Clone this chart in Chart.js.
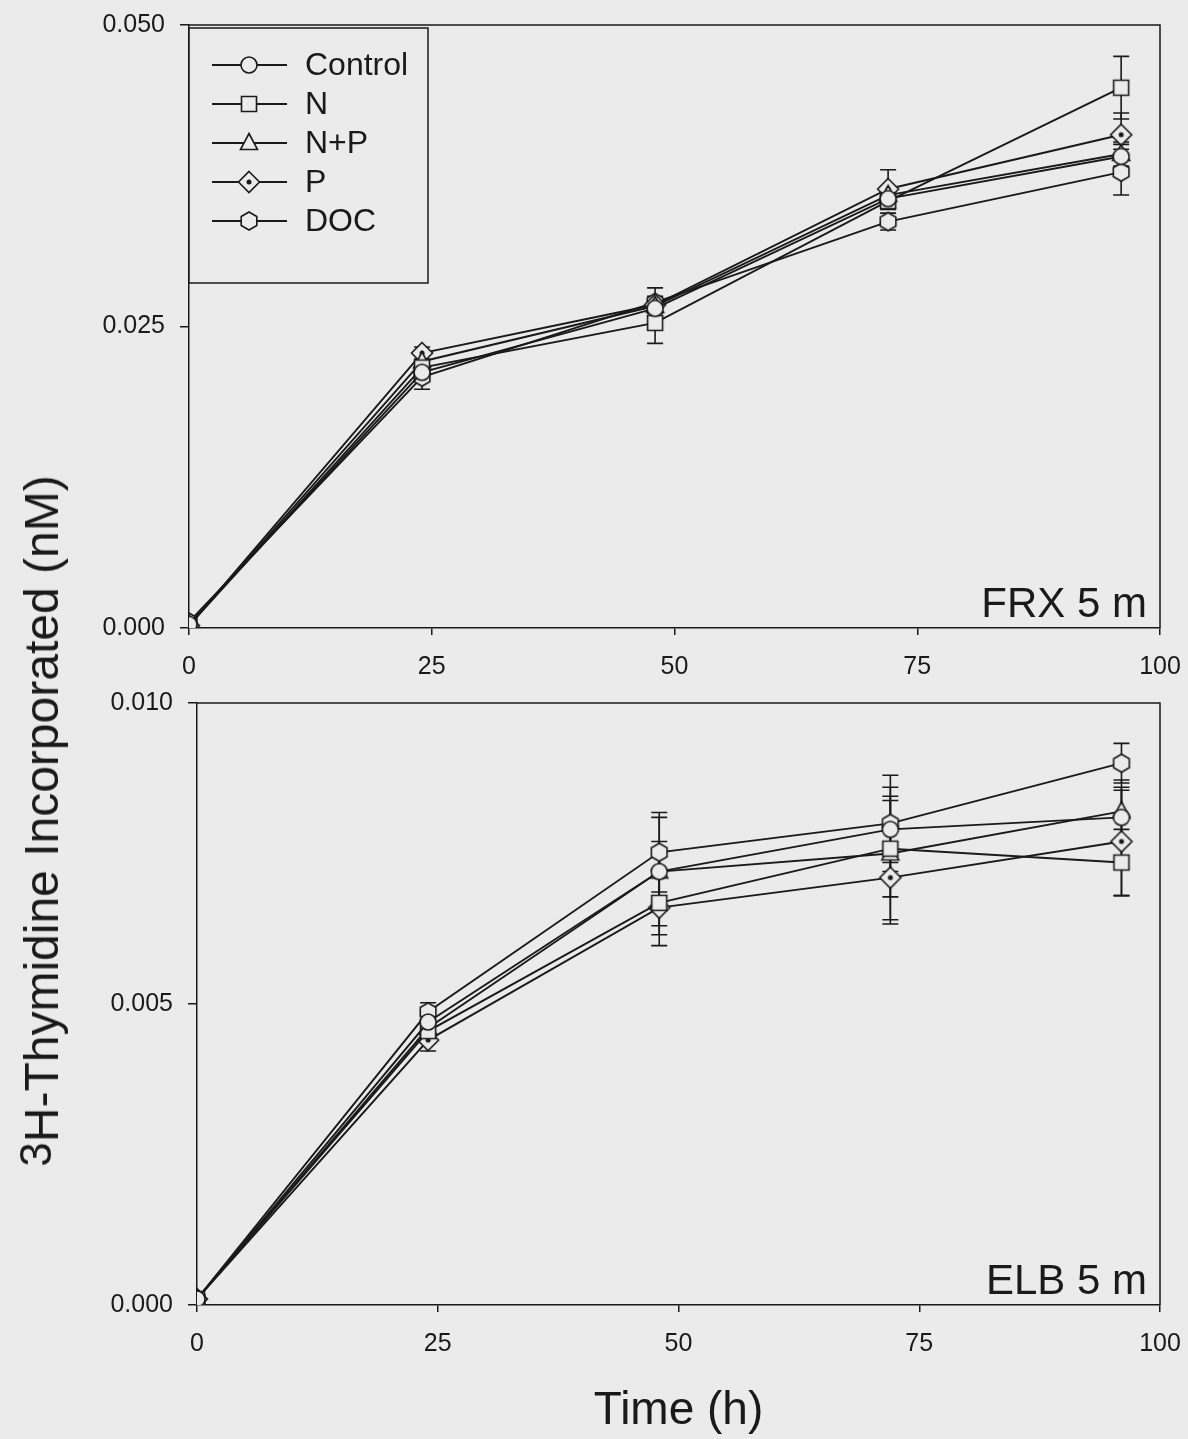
<!DOCTYPE html>
<html>
<head>
<meta charset="utf-8">
<script src="https://cdn.jsdelivr.net/npm/chart.js@4.4.1/dist/chart.umd.min.js"></script>
<style>
  html, body { margin: 0; padding: 0; }
  body {
    width: 1188px; height: 1439px; position: relative; overflow: hidden;
    background: #ebebeb; color: #1a1a1a;
    font-family: 'Liberation Sans', Arial, sans-serif;
  }
  #topWrap { position: absolute; left: 0; top: 0; }
  #bottomWrap { position: absolute; left: 0; top: 680px; }
  #yTitle {
    position: absolute; left: 42px; top: 821px;
    transform: translate(-50%, -50%) rotate(-90deg);
    font-size: 48px; white-space: nowrap; line-height: 1;
  }
  #yTitle .iso { font-size: 44px; position: relative; top: -7px; }
</style>
</head>
<body>
<div id="topWrap"><canvas id="frxChart" width="1188" height="690"></canvas></div>
<div id="bottomWrap"><canvas id="elbChart" width="1188" height="759"></canvas></div>
<div id="yTitle"><span class="iso">3</span>H-Thymidine Incorporated (nM)</div>
<script>
const INK = '#1a1a1a';
const BG = '#ebebeb';

const times = [0, 24, 48, 72, 96];
const timeTicks = [0, 25, 50, 75, 100];
const seriesNames = ['Control', 'N', 'N+P', 'P', 'DOC'];
const markerKinds = ['circle', 'square', 'triangle', 'diamondDot', 'hexagon'];

// FRX 5 m
const frxTicks = [0, 0.025, 0.05];
const frxControl = [0.0003, 0.0212, 0.0265, 0.0356, 0.0391];
const frxN       = [0.0002, 0.0216, 0.0253, 0.0354, 0.0448];
const frxNP      = [0.0002, 0.0221, 0.0267, 0.0359, 0.0393];
const frxP       = [0.0002, 0.0228, 0.0268, 0.0364, 0.0409];
const frxDOC     = [0.0005, 0.0208, 0.0270, 0.0337, 0.0378];
const frxControlErr = [0, 0.0006, 0.0006, 0.0007, 0.0010];
const frxNErr       = [0, 0.0006, 0.0017, 0.0007, 0.0026];
const frxNPErr      = [0, 0.0005, 0.0005, 0.0007, 0.0010];
const frxPErr       = [0, 0.0005, 0.0007, 0.0016, 0.0018];
const frxDOCErr     = [0, 0.0010, 0.0012, 0.0007, 0.0019];

// ELB 5 m
const elbTicks = [0, 0.005, 0.01];
const elbControl = [0.0001, 0.00470, 0.00720, 0.00790, 0.00810];
const elbN       = [0.0001, 0.00455, 0.00668, 0.00758, 0.00735];
const elbNP      = [0.0001, 0.00460, 0.00720, 0.00750, 0.00820];
const elbP       = [0.0001, 0.00440, 0.00660, 0.00710, 0.00770];
const elbDOC     = [0.0001, 0.00487, 0.00752, 0.00800, 0.00900];
const elbControlErr = [0, 0.00020, 0.00050, 0.00055, 0.00045];
const elbNErr       = [0, 0.00020, 0.00053, 0.00080, 0.00055];
const elbNPErr      = [0, 0.00020, 0.00090, 0.00110, 0.00052];
const elbPErr       = [0, 0.00018, 0.00063, 0.00077, 0.00090];
const elbDOCErr     = [0, 0.00015, 0.00066, 0.00080, 0.00033];

Chart.defaults.font.family = "'Liberation Sans', Arial, sans-serif";
Chart.defaults.color = INK;

function makeMarker(kind) {
  const c = document.createElement('canvas');
  c.width = 28; c.height = 28;
  const g = c.getContext('2d');
  const x = 14, y = 14;
  g.fillStyle = BG;
  g.strokeStyle = INK;
  g.lineWidth = 1.6;
  g.beginPath();
  if (kind === 'circle') {
    g.arc(x, y, 8, 0, Math.PI * 2);
  } else if (kind === 'square') {
    g.rect(x - 7.5, y - 7.5, 15, 15);
  } else if (kind === 'triangle') {
    g.moveTo(x, y - 9.5); g.lineTo(x + 8.5, y + 6.5); g.lineTo(x - 8.5, y + 6.5); g.closePath();
  } else if (kind === 'diamondDot') {
    g.moveTo(x, y - 10.5); g.lineTo(x + 10.5, y); g.lineTo(x, y + 10.5); g.lineTo(x - 10.5, y); g.closePath();
  } else if (kind === 'hexagon') {
    for (let i = 0; i < 6; i++) {
      const a = (i * 60 - 90) * Math.PI / 180;
      const px = x + 9 * Math.cos(a), py = y + 9 * Math.sin(a);
      if (i === 0) g.moveTo(px, py); else g.lineTo(px, py);
    }
    g.closePath();
  }
  g.fill();
  g.stroke();
  if (kind === 'diamondDot') {
    g.fillStyle = INK;
    g.beginPath();
    g.arc(x, y, 2.5, 0, Math.PI * 2);
    g.fill();
  }
  return c;
}
const markers = markerKinds.map(makeMarker);

function buildDatasets(valueLists, errLists) {
  return valueLists.map((vals, i) => ({
    label: seriesNames[i],
    data: times.map((t, j) => ({ x: t, y: vals[j] })),
    errors: errLists[i],
    borderColor: INK,
    borderWidth: 1.9,
    pointStyle: markers[i],
    pointRadius: 10,
    fill: false,
    tension: 0
  }));
}

const errorBars = {
  id: 'errorBars',
  beforeDatasetsDraw(chart) {
    const { ctx } = chart;
    const yScale = chart.scales.y;
    ctx.save();
    ctx.strokeStyle = INK;
    ctx.lineWidth = 1.6;
    chart.data.datasets.forEach((ds, i) => {
      const meta = chart.getDatasetMeta(i);
      meta.data.forEach((pt, j) => {
        const e = ds.errors[j];
        if (!e) return;
        const v = ds.data[j].y;
        const yTop = yScale.getPixelForValue(v + e);
        const yBot = yScale.getPixelForValue(v - e);
        ctx.beginPath();
        ctx.moveTo(pt.x, yTop); ctx.lineTo(pt.x, yBot);
        ctx.moveTo(pt.x - 8, yTop); ctx.lineTo(pt.x + 8, yTop);
        ctx.moveTo(pt.x - 8, yBot); ctx.lineTo(pt.x + 8, yBot);
        ctx.stroke();
      });
    });
    ctx.restore();
  }
};

const frame = {
  id: 'frame',
  afterDraw(chart) {
    const { ctx, chartArea: a } = chart;
    ctx.save();
    ctx.strokeStyle = INK;
    ctx.lineWidth = 1.5;
    ctx.beginPath();
    ctx.moveTo(a.left, a.top); ctx.lineTo(a.right, a.top); ctx.lineTo(a.right, a.bottom);
    ctx.stroke();
    ctx.restore();
  }
};

const panelLabel = {
  id: 'panelLabel',
  afterDraw(chart, args, opts) {
    if (!opts.text) return;
    const { ctx, chartArea: a } = chart;
    ctx.save();
    ctx.font = "42px 'Liberation Sans', Arial, sans-serif";
    ctx.fillStyle = INK;
    ctx.textAlign = 'right';
    ctx.textBaseline = 'alphabetic';
    ctx.fillText(opts.text, a.right - 13, a.bottom - 11);
    ctx.restore();
  }
};

const boxLegend = {
  id: 'boxLegend',
  afterDatasetsDraw(chart, args, opts) {
    if (!opts.show) return;
    const { ctx, chartArea: a } = chart;
    ctx.save();
    ctx.strokeStyle = INK;
    ctx.lineWidth = 1.5;
    ctx.fillStyle = BG;
    ctx.fillRect(a.left, a.top + 3, 428 - a.left, 255);
    ctx.strokeRect(a.left, a.top + 3, 428 - a.left, 255);
    ctx.font = "32px 'Liberation Sans', Arial, sans-serif";
    ctx.textBaseline = 'middle';
    ctx.textAlign = 'left';
    seriesNames.forEach((name, i) => {
      const y = a.top + 40 + i * 39;
      ctx.strokeStyle = INK;
      ctx.lineWidth = 1.9;
      ctx.beginPath();
      ctx.moveTo(212, y); ctx.lineTo(287, y);
      ctx.stroke();
      ctx.drawImage(markers[i], 249 - 14, y - 14);
      ctx.fillStyle = INK;
      ctx.fillText(name, 305, y + 1);
    });
    ctx.restore();
  }
};

function makeOptions(cfg) {
  return {
    responsive: false,
    animation: false,
    layout: { padding: { top: cfg.padTop, right: 28, left: 0, bottom: 0 } },
    plugins: {
      legend: { display: false },
      tooltip: { enabled: false },
      panelLabel: { text: cfg.label },
      boxLegend: { show: cfg.legend }
    },
    scales: {
      x: {
        type: 'linear',
        min: 0, max: 100,
        afterBuildTicks: s => { s.ticks = timeTicks.map(v => ({ value: v })); },
        afterFit: s => { s.height = cfg.xHeight; s.paddingLeft = 0; s.paddingRight = 0; },
        ticks: { font: { size: 25 }, color: INK, padding: 17, maxRotation: 0 },
        grid: { display: true, drawOnChartArea: false, drawTicks: true, tickLength: 7, color: INK, lineWidth: 1.5 },
        border: { display: true, color: INK, width: 1.5 },
        title: cfg.xTitle ? {
          display: true, text: 'Time (h)', color: INK,
          font: { size: 46 }, padding: { top: 0, bottom: 0 }
        } : { display: false }
      },
      y: {
        type: 'linear',
        min: 0, max: cfg.yMax,
        afterBuildTicks: s => { s.ticks = cfg.yTicks.map(v => ({ value: v })); },
        afterFit: s => { s.width = cfg.yWidth; s.paddingTop = 0; s.paddingBottom = 0; },
        ticks: { font: { size: 25 }, color: INK, padding: 15, callback: v => v.toFixed(3) },
        grid: { display: true, drawOnChartArea: false, drawTicks: true, tickLength: 9, color: INK, lineWidth: 1.5 },
        border: { display: true, color: INK, width: 1.5 }
      }
    }
  };
}

new Chart(document.getElementById('frxChart'), {
  type: 'line',
  data: {
    datasets: buildDatasets(
      [frxControl, frxN, frxNP, frxP, frxDOC],
      [frxControlErr, frxNErr, frxNPErr, frxPErr, frxDOCErr]
    )
  },
  options: makeOptions({
    padTop: 25, xHeight: 62, yWidth: 189, yMax: 0.05, yTicks: frxTicks,
    label: 'FRX 5 m', legend: true, xTitle: false
  }),
  plugins: [errorBars, frame, panelLabel, boxLegend]
});

new Chart(document.getElementById('elbChart'), {
  type: 'line',
  data: {
    datasets: buildDatasets(
      [elbControl, elbN, elbNP, elbP, elbDOC],
      [elbControlErr, elbNErr, elbNPErr, elbPErr, elbDOCErr]
    )
  },
  options: makeOptions({
    padTop: 23, xHeight: 134, yWidth: 197, yMax: 0.01, yTicks: elbTicks,
    label: 'ELB 5 m', legend: false, xTitle: true
  }),
  plugins: [errorBars, frame, panelLabel]
});
</script>
</body>
</html>
